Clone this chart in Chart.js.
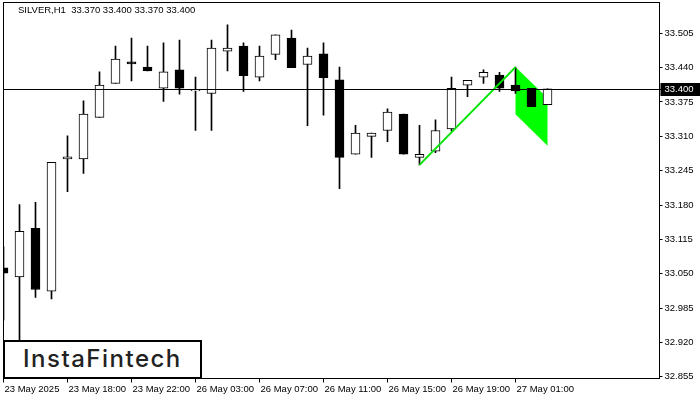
<!DOCTYPE html>
<html>
<head>
<meta charset="utf-8">
<script src="https://cdn.jsdelivr.net/npm/chart.js@4.4.1/dist/chart.umd.min.js"></script>
<style>
  body { margin: 0; background: #fff; }
  #wrap { position: relative; width: 700px; height: 400px; }
  #logo {
    position: absolute; left: 3px; top: 340px; width: 199px; height: 39px;
    box-sizing: border-box; border: 2px solid #000; background: #fff;
    font: 500 24px Inter, "Noto Sans", sans-serif; color: #222; letter-spacing: 1.5px;
    padding-left: 18px; line-height: 34px; white-space: nowrap;
  }
</style>
</head>
<body>
<div id="wrap">
  <canvas id="chart" width="700" height="400"></canvas>
  <div id="logo">InstaFintech</div>
</div>
<script>
// SILVER H1 candles
const opens  = [33.061, 33.044, 33.136, 33.017, 33.267, 33.267, 33.346, 33.410, 33.451, 33.441,
                33.401, 33.436, 33.396, 33.391, 33.471, 33.481, 33.422, 33.465, 33.496, 33.446,
                33.466, 33.417, 33.276, 33.310, 33.321, 33.352, 33.270, 33.282, 33.324, 33.407,
                33.422, 33.426, 33.407, 33.401, 33.370];
const highs  = [33.101, 33.181, 33.185, 33.261, 33.311, 33.377, 33.432, 33.481, 33.496, 33.481,
                33.487, 33.492, 33.422, 33.492, 33.521, 33.487, 33.481, 33.502, 33.511, 33.477,
                33.487, 33.441, 33.331, 33.316, 33.362, 33.352, 33.331, 33.341, 33.422, 33.416,
                33.436, 33.431, 33.441, 33.401, 33.400];
const lows   = [32.962, 32.900, 33.005, 33.002, 33.205, 33.240, 33.346, 33.410, 33.415, 33.434,
                33.376, 33.390, 33.321, 33.321, 33.434, 33.395, 33.415, 33.455, 33.440, 33.330,
                33.350, 33.211, 33.276, 33.270, 33.300, 33.276, 33.256, 33.279, 33.320, 33.385,
                33.410, 33.395, 33.391, 33.366, 33.370];
const closes = [33.051, 33.130, 33.020, 33.261, 33.271, 33.352, 33.407, 33.456, 33.447, 33.434,
                33.432, 33.401, 33.396, 33.477, 33.477, 33.425, 33.462, 33.502, 33.440, 33.462,
                33.421, 33.270, 33.316, 33.316, 33.356, 33.276, 33.276, 33.321, 33.401, 33.416,
                33.431, 33.401, 33.396, 33.366, 33.400];

const tickLabels = ['23 May 2025', '23 May 18:00', '23 May 22:00', '26 May 03:00', '26 May 07:00',
                    '26 May 11:00', '26 May 15:00', '26 May 19:00', '27 May 01:00'];
const yTicks = [32.855, 32.920, 32.985, 33.050, 33.115, 33.180, 33.245, 33.310, 33.375, 33.440, 33.505];
const yMin = 32.8516, yMax = 33.5633;
const slots = 42;          // visible bar slots incl. empty space on the right
const labelEvery = 4;

// bullish flag: pole and flag corners
const poleFrom = 26, poleTo = 32;
const poleValues = [33.256, 33.441];
const flagFrom = 32, flagTo = 34;
const flagUpper = [33.441, 33.3825];
const flagLower = [33.3517, 33.2922];

const lastPrice = 33.400;
const header = 'SILVER,H1  33.370 33.400 33.370 33.400';

const categories = [];
for (let i = 0; i < slots; i++) {
    categories.push(i % labelEvery === 0 && tickLabels[i / labelEvery] ? tickLabels[i / labelEvery] : '');
}
const wickData = highs.map((h, i) => [lows[i], h]);
const bodyData = opens.map((o, i) => [o, closes[i]]);
const bodyColors = opens.map((o, i) => closes[i] >= o ? '#ffffff' : '#000000');
const poleData = categories.map((_, i) => i === poleFrom ? poleValues[0] : (i === poleTo ? poleValues[1] : null));

Chart.defaults.font.family = '"Liberation Sans", Arial, sans-serif';
Chart.defaults.font.size = 9.5;
Chart.defaults.color = '#000';

const decor = {
    id: 'decor',
    beforeDatasetsDraw(chart) {
        const {ctx, chartArea: a, scales: {x, y}} = chart;
        ctx.save();
        ctx.beginPath();
        ctx.rect(a.left, a.top, a.right - a.left, a.bottom - a.top);
        ctx.clip();
        ctx.fillStyle = '#00ff00';
        ctx.beginPath();
        ctx.moveTo(x.getPixelForValue(flagFrom), y.getPixelForValue(flagUpper[0]));
        ctx.lineTo(x.getPixelForValue(flagTo), y.getPixelForValue(flagUpper[1]));
        ctx.lineTo(x.getPixelForValue(flagTo), y.getPixelForValue(flagLower[1]));
        ctx.lineTo(x.getPixelForValue(flagFrom), y.getPixelForValue(flagLower[0]));
        ctx.closePath();
        ctx.fill();
        ctx.restore();
    },
    afterDatasetsDraw(chart) {
        const {ctx, chartArea: a, scales: {y}} = chart;
        const py = Math.round(y.getPixelForValue(lastPrice)) + 0.5;
        ctx.save();
        ctx.strokeStyle = '#000';
        ctx.lineWidth = 1;
        ctx.beginPath();
        ctx.moveTo(a.left, py);
        ctx.lineTo(a.right + 3, py);
        ctx.stroke();
        ctx.strokeRect(a.left, a.top, a.right - a.left, a.bottom - a.top);
        ctx.restore();
    },
    afterDraw(chart) {
        const {ctx, chartArea: a, scales: {y}} = chart;
        const py = Math.round(y.getPixelForValue(lastPrice)) + 0.5;
        ctx.save();
        ctx.fillStyle = '#000';
        ctx.fillRect(a.right + 1, py - 6.5, 700 - a.right, 13);
        ctx.fillStyle = '#fff';
        ctx.font = Chart.helpers.toFont(Chart.defaults.font).string;
        ctx.textBaseline = 'middle';
        ctx.fillText(lastPrice.toFixed(3), a.right + 5, py);
        ctx.fillStyle = '#000';
        ctx.fillText(header, 18, 10.5);
        ctx.restore();
    }
};

new Chart(document.getElementById('chart'), {
    type: 'bar',
    data: {
        labels: categories,
        datasets: [
            {
                type: 'bar', data: wickData, backgroundColor: '#000',
                barThickness: 1, grouped: false, order: 3, clip: 0
            },
            {
                type: 'bar', data: bodyData, backgroundColor: bodyColors, borderColor: '#000',
                borderWidth: 1, borderSkipped: false, barThickness: 9, minBarLength: 1,
                grouped: false, order: 2, clip: 0
            },
            {
                type: 'line', data: poleData, borderColor: '#00e600', borderWidth: 2,
                pointRadius: 0, spanGaps: true, order: 1, clip: 0
            }
        ]
    },
    options: {
        responsive: false,
        animation: false,
        layout: {padding: {left: 3.5, top: 2.5, right: 0, bottom: 0}},
        plugins: {legend: {display: false}, tooltip: {enabled: false}},
        scales: {
            x: {
                offset: false,
                grid: {
                    offset: false, drawOnChartArea: false, tickLength: 4,
                    color: c => categories[c.index] ? '#000' : 'rgba(0,0,0,0)'
                },
                border: {display: false},
                ticks: {autoSkip: false, maxRotation: 0, align: 'start', padding: 1, labelOffset: 1},
                afterFit: s => { s.height = 21.5; s.paddingLeft = 0; s.paddingRight = 0; }
            },
            y: {
                position: 'right', min: yMin, max: yMax,
                grid: {drawOnChartArea: false, tickLength: 3, color: '#000'},
                border: {display: false},
                afterBuildTicks: s => { s.ticks = yTicks.map(v => ({value: v})); },
                ticks: {autoSkip: false, padding: 2, callback: v => v.toFixed(3)},
                afterFit: s => { s.width = 40.5; s.paddingTop = 0; s.paddingBottom = 0; }
            }
        }
    },
    plugins: [decor]
});
</script>
</body>
</html>
